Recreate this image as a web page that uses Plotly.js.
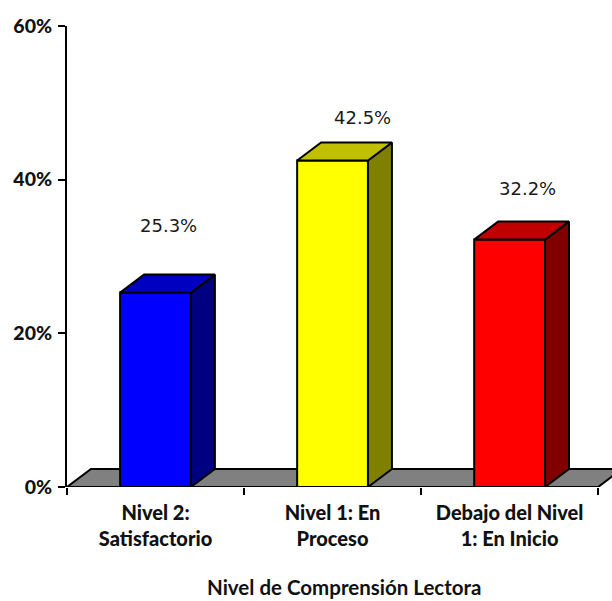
<!DOCTYPE html>
<html>
<head>
<meta charset="utf-8">
<script src="https://cdn.plot.ly/plotly-3.0.1.min.js"></script>
<style>html,body{margin:0;padding:0;background:#fff;overflow:hidden}</style>
</head>
<body>
<div id="chart" style="width:612px;height:601px"></div>
<script>
const categories = ["Nivel 2:<br>Satisfactorio", "Nivel 1: En<br>Proceso", "Debajo del Nivel<br>1: En Inicio"];
const values = [25.3, 42.5, 32.2];
const frontColors = ["#0000FF", "#FFFF00", "#FF0000"];
const topColors = ["#0000C0", "#C0C000", "#C00000"];
const sideColors = ["#000080", "#808000", "#800000"];
const labelLift = [55, 30, 39];
const labelShift = [13, 30, 18];
const yTicks = [0, 20, 40, 60];
const yTickText = ["0%", "20%", "40%", "60%"];
const xBoundaries = [-0.5, 0.5, 1.5, 2.5];
const axisTitle = "Nivel de Comprensión Lectora";

const W = 612, H = 601, L = 66.5, T = 26, B = 114;
const catPx = 177.2;
const xEnd = -0.5 + (W - L) / catPx;
const pxPerPct = (H - T - B) / 60;
const dx = 24 / catPx, dy = 18 / pxPerPct;
const barW = 0.4;
const edge = {color: "#000", width: 2};

const traces = [{
  type: "bar",
  x: [0, 1, 2],
  y: values,
  width: barW,
  marker: {color: frontColors, line: edge},
  hoverinfo: "skip",
  showlegend: false
}];

values.forEach((v, i) => {
  const l = i - barW / 2, r = i + barW / 2;
  traces.push({
    type: "scatter", mode: "lines", fill: "toself", fillcolor: sideColors[i],
    x: [r, r + dx, r + dx, r, r], y: [0, dy, v + dy, v, 0],
    line: edge, hoverinfo: "skip", showlegend: false
  });
  traces.push({
    type: "scatter", mode: "lines", fill: "toself", fillcolor: topColors[i],
    x: [l, l + dx, r + dx, r, l], y: [v, v + dy, v + dy, v, v],
    line: edge, hoverinfo: "skip", showlegend: false
  });
});

traces.push({
  type: "scatter", mode: "lines",
  x: [xBoundaries[0], xBoundaries[xBoundaries.length - 1]], y: [0, 0],
  line: edge, hoverinfo: "skip", showlegend: false, cliponaxis: false
});

const annotations = values.map((v, i) => ({
  x: i, y: v, xref: "x", yref: "y",
  text: v.toFixed(1) + "%", showarrow: false, yshift: labelLift[i], xshift: labelShift[i],
  yanchor: "bottom", xanchor: "center",
  font: {family: "DejaVu Sans, sans-serif", size: 18, color: "#1a1a1a"}
}));
annotations.push({
  x: (344 - L) / (W - L), xref: "paper", xanchor: "center",
  y: (H - B - 587) / (H - T - B), yref: "paper", yanchor: "middle",
  text: "<b>" + axisTitle + "</b>", showarrow: false,
  font: {family: "Lato, sans-serif", size: 20.5, color: "#111"}
});

const layout = {
  width: W, height: H,
  margin: {l: L, r: 0, t: T, b: B, pad: 0},
  paper_bgcolor: "#fff", plot_bgcolor: "#fff",
  showlegend: false,
  xaxis: {
    range: [-0.5, xEnd], tickmode: "array", tickvals: [0, 1, 2], ticktext: categories,
    ticks: "", showgrid: false, zeroline: false, showline: false,
    tickfont: {family: "Lato, sans-serif", size: 20, color: "#111", weight: 900},
    minor: {tickmode: "array", tickvals: xBoundaries, ticks: "outside", ticklen: 7, tickwidth: 2, tickcolor: "#000", showgrid: false},
    ticklabelstandoff: 12
  },
  yaxis: {
    range: [0, 60], tickmode: "array", tickvals: yTicks, ticktext: yTickText,
    ticks: "outside", ticklen: 7, tickwidth: 2, tickcolor: "#000",
    showgrid: false, zeroline: false, showline: true, linecolor: "#000", linewidth: 2,
    tickfont: {family: "Lato, sans-serif", size: 19.5, color: "#111", weight: 900},
    ticklabelstandoff: 2
  },
  shapes: [{
    type: "path", layer: "below", xref: "x", yref: "y",
    path: "M -0.5 0 L " + (-0.5 + dx) + " " + dy + " L " + (2.5 + dx) + " " + dy + " L 2.5 0 Z",
    fillcolor: "#808080", line: {color: "#000", width: 2}
  }],
  annotations: annotations
};

Plotly.newPlot("chart", traces, layout, {displayModeBar: false, staticPlot: true});
</script>
</body>
</html>
